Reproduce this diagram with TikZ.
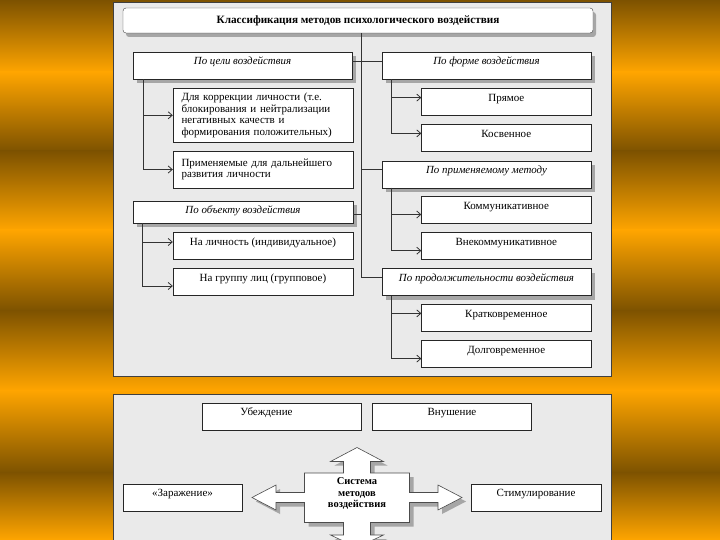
\documentclass[tikz,border=0pt]{standalone}
\usepackage{fontspec}
\setmainfont{Liberation Serif}
\usepackage{xcolor}
\usepackage{tikz}
\usetikzlibrary{arrows.meta, positioning, shadows}

\definecolor{golddark}{HTML}{7D5200}
\definecolor{goldlight}{HTML}{FFA500}
\definecolor{panelgray}{HTML}{EAEAEA}

\begin{document}
\begin{tikzpicture}[
    x=1pt, y=-1pt,
    panel/.style={draw=black!75, fill=panelgray, line width=0.8pt},
    titlebox/.style={rectangle, rounded corners=3pt, draw=black!75, fill=white, minimum width=470pt, minimum height=25pt, font=\fontsize{11.2}{13}\selectfont\bfseries, drop shadow={shadow xshift=3pt, shadow yshift=-4pt, fill=black!35, opacity=1}},
    groupbox/.style={rectangle, draw=black!85, fill=white, minimum width=209pt, inner ysep=0pt, text height=12.8pt, text depth=14.2pt, font=\fontsize{10.9}{12}\selectfont\itshape, drop shadow={shadow xshift=4pt, shadow yshift=-4pt, fill=black!35, opacity=1}},
    leafbox/.style={rectangle, draw=black!85, fill=white, minimum width=169.5pt, inner ysep=0pt, text height=12.8pt, text depth=14.2pt, font=\fontsize{11}{12}\selectfont},
    notebox/.style={rectangle, draw=black!85, fill=white, text width=163pt, inner xsep=8.5pt, align=left, font=\fontsize{11}{11.7}\selectfont},
    hubarrow/.style={draw=black!70, fill=white, line width=0.6pt, drop shadow={shadow xshift=4pt, shadow yshift=-4pt, fill=black!35, opacity=1}},
    hubtext/.style={align=center, inner sep=0pt, font=\fontsize{10.5}{11.7}\selectfont\bfseries},
    link/.style={draw=black!80, line width=0.8pt},
    arrow/.style={link, -{Straight Barb[length=4pt, width=7pt]}}
]

% Background with gold bands
\path[use as bounding box, clip] (0,0) rectangle (720,540);
\shade[top color=golddark, bottom color=goldlight] (0,0) rectangle (720,72.5);
\shade[top color=goldlight, bottom color=golddark] (0,72) rectangle (720,151.5);
\shade[top color=golddark, bottom color=goldlight] (0,151) rectangle (720,230.5);
\shade[top color=goldlight, bottom color=golddark] (0,230) rectangle (720,310.5);
\shade[top color=golddark, bottom color=goldlight] (0,310) rectangle (720,390.5);
\shade[top color=goldlight, bottom color=golddark] (0,390) rectangle (720,472.5);
\shade[top color=golddark, bottom color=goldlight] (0,472) rectangle (720,540);

% Two gray panels
\draw[panel] (113,2) rectangle (611,376);
\draw[panel] (113,394) rectangle (611,550);

% Top panel: classification tree
\node[titlebox] (title) at (358,20.5) {Классификация методов психологического воздействия};

\node[groupbox, minimum width=219pt] (goal) at (242.5,65.5) {По цели воздействия};
\node[notebox, minimum height=53.4pt] (corr) at (263,115.3) {Для коррекции личности (т.е.\\блокирования и нейтрализации\\негативных качеств и\\формирования положительных)};
\node[notebox, minimum height=37pt] (devel) at (263,169.5) {Применяемые для дальнейшего\\развития личности};
\node[groupbox, minimum width=220pt, text depth=9.7pt] (obj) at (243,212) {По объекту воздействия};
\node[leafbox, minimum width=180pt] (indiv) at (263,246) {На личность (индивидуальное)};
\node[leafbox, minimum width=180pt] (group) at (263,282) {На группу лиц (групповое)};

\node[groupbox] (form) at (486.5,65.5) {По форме воздействия};
\node[leafbox] (direct) at (506.3,102) {Прямое};
\node[leafbox] (indirect) at (506.3,137.8) {Косвенное};
\node[groupbox] (meth) at (486.5,174.3) {По применяемому методу};
\node[leafbox] (comm) at (506.3,210) {Коммуникативное};
\node[leafbox] (noncomm) at (506.3,246) {Внекоммуникативное};
\node[groupbox] (dur) at (486.5,282) {По продолжительности воздействия};
\node[leafbox] (brief) at (506.3,318) {Кратковременное};
\node[leafbox] (lasting) at (506.3,354) {Долговременное};

% Main trunk and the branches off it
\coordinate (tjoint) at (361,277.6);
\draw[link] ([xshift=3pt]title.south) -- (tjoint) -- (tjoint -| dur.west);
\draw[link] ([yshift=4.5pt]goal.east) -- ([yshift=4.5pt]form.west);
\draw[link] ([yshift=4.7pt]meth.west) -- ([yshift=4.7pt]meth.west -| tjoint);
\draw[link] ([yshift=-2pt]obj.east) -- ([yshift=-2pt]obj.east -| tjoint);

% Arrows down to the leaves
\draw[arrow] ([xshift=11pt]goal.south west) |- (corr.west);
\draw[arrow] ([xshift=11pt]goal.south west) |- (devel.west);
\draw[arrow] ([xshift=10pt]obj.south west) |- ([yshift=4pt]indiv.west);
\draw[arrow] ([xshift=10pt]obj.south west) |- ([yshift=-4pt]group.west);
\draw[arrow] ([xshift=9.6pt]form.south west) |- ([yshift=4.4pt]direct.west);
\draw[arrow] ([xshift=9.6pt]form.south west) |- ([yshift=4.4pt]indirect.west);
\draw[arrow] ([xshift=9.6pt]meth.south west) |- ([yshift=-4.5pt]comm.west);
\draw[arrow] ([xshift=9.6pt]meth.south west) |- ([yshift=-4.7pt]noncomm.west);
\draw[arrow] ([xshift=9.6pt]dur.south west) |- ([yshift=4.6pt]brief.west);
\draw[arrow] ([xshift=9.6pt]dur.south west) |- ([yshift=-4.6pt]lasting.west);

% Bottom panel: system of methods
\node[leafbox, minimum width=159pt] (persu) at (281.5,416.5) {Убеждение\hspace*{30pt}};
\node[leafbox, minimum width=159pt, right=11pt of persu] (sugg) {Внушение};
\node[leafbox, minimum width=119pt] (infect) at (182.5,497.5) {«Заражение»};
\node[leafbox, minimum width=130pt] (stim) at (536,497.5) {Стимулирование};

\begin{scope}[shift={(357,497.5)}]
\draw[hubarrow] (0,-50) -- (26.5,-36) -- (13.5,-36) -- (13.5,-24.5) -- (52.5,-24.5) -- (52.5,-5) -- (81,-5) -- (81,-12.5) -- (105,0) -- (81,12.5) -- (81,5) -- (52.5,5) -- (52.5,25) -- (13.5,25) -- (13.5,37.5) -- (26.5,37.5) -- (0,50) -- (-26.5,37.5) -- (-13.5,37.5) -- (-13.5,25) -- (-52.5,25) -- (-52.5,5) -- (-81,5) -- (-81,12.5) -- (-105,0) -- (-81,-12.5) -- (-81,-5) -- (-52.5,-5) -- (-52.5,-24.5) -- (-13.5,-24.5) -- (-13.5,-36) -- (-26.5,-36) -- cycle;
\end{scope}
\node[hubtext] (sys) at (357,493.5) {Система\\методов\\воздействия};

\end{tikzpicture}
\end{document}
